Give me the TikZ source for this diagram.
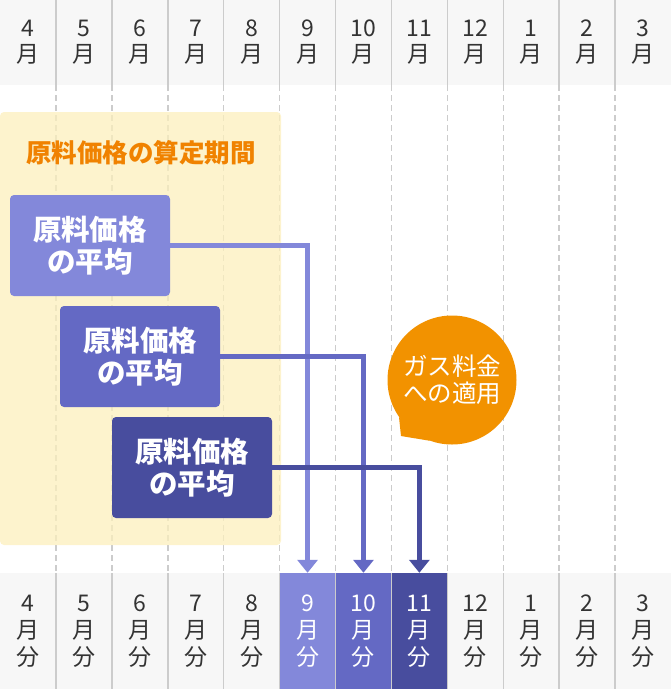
\documentclass[tikz,border=0pt]{standalone}
\usepackage{fontspec}
\setmainfont{Noto Sans CJK JP}
\usetikzlibrary{arrows.meta, positioning}

\definecolor{hdrbg}{RGB}{247,247,247}
\definecolor{gridgray}{RGB}{204,204,204}
\definecolor{textgray}{RGB}{51,51,51}
\definecolor{avgA}{RGB}{131,136,218}
\definecolor{avgB}{RGB}{100,105,196}
\definecolor{avgC}{RGB}{72,77,158}
\definecolor{periodbg}{RGB}{252,239,188}
\definecolor{titleorange}{RGB}{240,130,0}
\definecolor{bubbleorange}{RGB}{242,146,0}

\begin{document}
\begin{tikzpicture}[
    x=1pt, y=-1pt, >={Triangle[width=20pt, length=13pt]},
    month/.style={minimum width=55.9pt, minimum height=85pt, inner sep=0pt, align=center,
        text=textgray, font=\fontsize{23}{26}\selectfont},
    due/.style={minimum width=55.9pt, minimum height=116pt, inner sep=0pt, align=center,
        font=\fontsize{23}{27}\selectfont},
    avg/.style={rounded corners=4pt, minimum width=160pt, minimum height=101pt, inner sep=0pt,
        text=white, align=center, font=\bfseries\fontsize{28.5}{32}\selectfont},
    link/.style={->, line width=4.5pt},
    gridline/.style={draw=gridgray, line width=1.5pt}
]
    \useasboundingbox (0,0) rectangle (671,689);

    % Headers
    \fill[hdrbg] (0,0) rectangle (671,85);
    \fill[hdrbg] (0,573) rectangle (671,689);
    \foreach \m/\fc/\tc [count=\i from 0] in {4/hdrbg/textgray, 5/hdrbg/textgray, 6/hdrbg/textgray,
        7/hdrbg/textgray, 8/hdrbg/textgray, 9/avgA/white, 10/avgB/white, 11/avgC/white,
        12/hdrbg/textgray, 1/hdrbg/textgray, 2/hdrbg/textgray, 3/hdrbg/textgray} {
        \node[month] (m\m) at ({(\i+0.5)*671/12}, 42.5) {\m\\月};
        \node[due, fill=\fc, text=\tc] (d\m) at ({(\i+0.5)*671/12}, 631) {\m\\月\\分};
    }

    % Column lines
    \foreach \k in {1,...,11} {
        \draw[gridline] ({\k*671/12}, 0) -- ({\k*671/12}, 85);
        \draw[gridline, dash pattern=on 6pt off 4pt] ({\k*671/12}, 85) -- ({\k*671/12}, 573);
        \draw[gridline] ({\k*671/12}, 573) -- ({\k*671/12}, 689);
    }

    % Period
    \fill[periodbg, fill opacity=.75, rounded corners=4pt] (0,112) rectangle (281,545);
    \node[text=titleorange, font=\bfseries\fontsize{25.5}{25.5}\selectfont] (period) at (141,153) {原料価格の算定期間};

    % Averages
    \node[avg, fill=avgA] (avg1) at (90,245.5) {原料価格\\の平均};
    \node[avg, fill=avgB] (avg2) at (140,356.5) {原料価格\\の平均};
    \node[avg, fill=avgC] (avg3) at (192,467.5) {原料価格\\の平均};

    % Links
    \draw[link, avgA] (avg1.east) -| (d9.north);
    \draw[link, avgB] (avg2.east) -| (d10.north);
    \draw[link, avgC] (avg3.east) -| (d11.north);

    % Bubble
    \node[circle, fill=bubbleorange, minimum size=129pt, inner sep=0pt, text=white, align=center,
        font=\fontsize{24.5}{27}\selectfont] (bubble) at (452,380) {ガス料金\\への適用};
    \coordinate (tail) at (401,436);
    \fill[bubbleorange] (bubble.215) -- (tail) -- (bubble.250) -- cycle;

\end{tikzpicture}
\end{document}
